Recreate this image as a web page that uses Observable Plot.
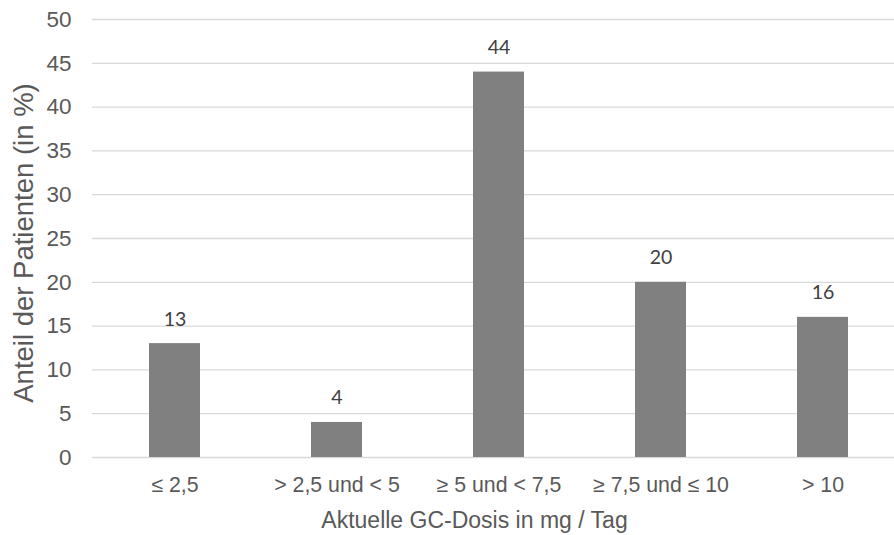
<!DOCTYPE html>
<html>
<head>
<meta charset="utf-8">
<script src="https://cdn.jsdelivr.net/npm/d3@7"></script>
<script src="https://cdn.jsdelivr.net/npm/@observablehq/plot@0.6"></script>
<style>
  html, body { margin: 0; padding: 0; background: #fff; }
  #chart svg { display: block; }
</style>
</head>
<body>
<div id="chart"></div>
<script>
// Dose categories (mg/day) and share of patients in each (%)
const categories = ["≤ 2,5", "> 2,5 und < 5", "≥ 5 und < 7,5", "≥ 7,5 und ≤ 10", "> 10"];
const shares = [13, 4, 44, 20, 16];
const yTicks = [0, 5, 10, 15, 20, 25, 30, 35, 40, 45, 50];

const data = categories.map((c, i) => ({category: c, share: shares[i]}));

const axisFont = "'Liberation Sans', Arial, sans-serif";
const labelFont = "Lato, 'Open Sans', sans-serif";

const chart = Plot.plot({
  width: 894,
  height: 535,
  marginLeft: 92,
  marginRight: 0,
  marginTop: 19,
  marginBottom: 78,
  style: {fontFamily: axisFont, background: "#fff", overflow: "visible"},
  x: {
    domain: categories,
    range: [92.5, 903.5],
    paddingInner: 0.687,
    paddingOuter: 0.3435
  },
  y: {domain: [0, 50], range: [457, 19]},
  marks: [
    Plot.gridY(yTicks, {stroke: "#d9d9d9", strokeOpacity: 1, strokeWidth: 1.3}),
    Plot.barY(data, {x: "category", y: "share", fill: "#808080"}),
    Plot.text(data, {
      x: "category", y: "share", text: d => String(d.share),
      dy: -18, lineAnchor: "bottom",
      fontFamily: labelFont, fontSize: 19.5, fill: "#404040"
    }),
    Plot.axisY(yTicks, {
      tickSize: 0, tickPadding: 21, fontSize: 22.5, color: "#595959",
      tickFormat: d => String(d),
      label: "Anteil der Patienten (in %)", labelAnchor: "center",
      labelOffset: 79, labelArrow: "none"
    }),
    Plot.axisX({
      tickSize: 0, tickPadding: 19.5, fontSize: 21.3, color: "#595959",
      label: "Aktuelle GC-Dosis in mg / Tag", labelAnchor: "center",
      labelOffset: 70, labelArrow: "none"
    })
  ]
});

// axis titles: larger than their tick labels, nudged into place
function styleTitle(sel, size, dx, dy) {
  const g = chart.querySelector(sel);
  if (!g) return;
  g.setAttribute("font-size", size);
  const t = g.getAttribute("transform") || "";
  g.setAttribute("transform", `translate(${dx},${dy}) ${t}`.trim());
}
styleTitle("[aria-label='y-axis label']", 27.5, 0, 4.5);
styleTitle("[aria-label='x-axis label']", 23, -19, 0);
document.getElementById("chart").appendChild(chart);
</script>
</body>
</html>
